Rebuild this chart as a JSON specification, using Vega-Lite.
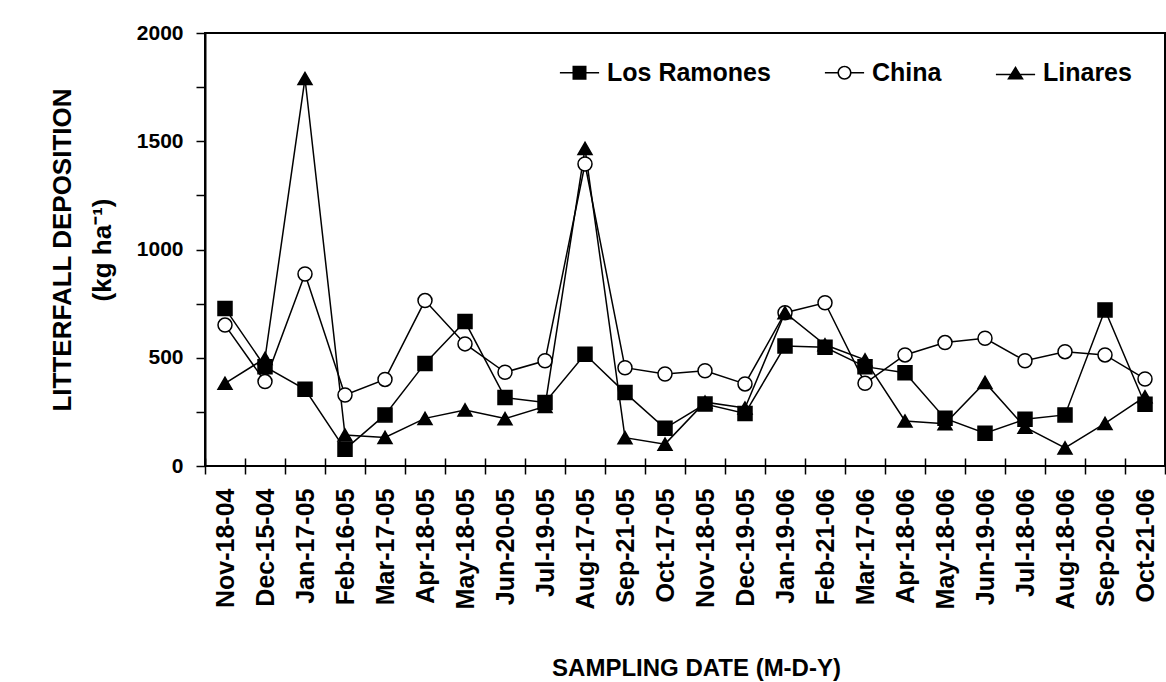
{
  "$schema": "https://vega.github.io/schema/vega-lite/v6.json",
  "width": 960,
  "height": 433,
  "autosize": {"type": "none"},
  "padding": {"left": 205, "top": 33, "right": 1, "bottom": 216},
  "background": "white",
  "config": {
    "font": "Liberation Sans",
    "view": {"stroke": "black", "strokeWidth": 2},
    "axis": {
      "labelFont": "Liberation Sans", "labelFontWeight": "bold", "labelColor": "black",
      "titleFont": "Liberation Sans", "titleFontWeight": "bold", "titleColor": "black",
      "tickColor": "black", "domainColor": "black", "grid": false, "ticks": true
    }
  },
  "datasets": {
    "litter": [
      {"date": "Nov-18-04", "site": "Los Ramones", "value": 728},
      {"date": "Dec-15-04", "site": "Los Ramones", "value": 459},
      {"date": "Jan-17-05", "site": "Los Ramones", "value": 354},
      {"date": "Feb-16-05", "site": "Los Ramones", "value": 77},
      {"date": "Mar-17-05", "site": "Los Ramones", "value": 236},
      {"date": "Apr-18-05", "site": "Los Ramones", "value": 474},
      {"date": "May-18-05", "site": "Los Ramones", "value": 667},
      {"date": "Jun-20-05", "site": "Los Ramones", "value": 316},
      {"date": "Jul-19-05", "site": "Los Ramones", "value": 293},
      {"date": "Aug-17-05", "site": "Los Ramones", "value": 516},
      {"date": "Sep-21-05", "site": "Los Ramones", "value": 339},
      {"date": "Oct-17-05", "site": "Los Ramones", "value": 174},
      {"date": "Nov-18-05", "site": "Los Ramones", "value": 286},
      {"date": "Dec-19-05", "site": "Los Ramones", "value": 243},
      {"date": "Jan-19-06", "site": "Los Ramones", "value": 554},
      {"date": "Feb-21-06", "site": "Los Ramones", "value": 548},
      {"date": "Mar-17-06", "site": "Los Ramones", "value": 459},
      {"date": "Apr-18-06", "site": "Los Ramones", "value": 431},
      {"date": "May-18-06", "site": "Los Ramones", "value": 220},
      {"date": "Jun-19-06", "site": "Los Ramones", "value": 151},
      {"date": "Jul-18-06", "site": "Los Ramones", "value": 216},
      {"date": "Aug-18-06", "site": "Los Ramones", "value": 236},
      {"date": "Sep-20-06", "site": "Los Ramones", "value": 721},
      {"date": "Oct-21-06", "site": "Los Ramones", "value": 285},
      {"date": "Nov-18-04", "site": "China", "value": 651},
      {"date": "Dec-15-04", "site": "China", "value": 390},
      {"date": "Jan-17-05", "site": "China", "value": 887},
      {"date": "Feb-16-05", "site": "China", "value": 328},
      {"date": "Mar-17-05", "site": "China", "value": 400},
      {"date": "Apr-18-05", "site": "China", "value": 764},
      {"date": "May-18-05", "site": "China", "value": 564},
      {"date": "Jun-20-05", "site": "China", "value": 433},
      {"date": "Jul-19-05", "site": "China", "value": 486},
      {"date": "Aug-17-05", "site": "China", "value": 1395},
      {"date": "Sep-21-05", "site": "China", "value": 454},
      {"date": "Oct-17-05", "site": "China", "value": 425},
      {"date": "Nov-18-05", "site": "China", "value": 440},
      {"date": "Dec-19-05", "site": "China", "value": 379},
      {"date": "Jan-19-06", "site": "China", "value": 708},
      {"date": "Feb-21-06", "site": "China", "value": 754},
      {"date": "Mar-17-06", "site": "China", "value": 382},
      {"date": "Apr-18-06", "site": "China", "value": 513},
      {"date": "May-18-06", "site": "China", "value": 570},
      {"date": "Jun-19-06", "site": "China", "value": 590},
      {"date": "Jul-18-06", "site": "China", "value": 486},
      {"date": "Aug-18-06", "site": "China", "value": 528},
      {"date": "Sep-20-06", "site": "China", "value": 513},
      {"date": "Oct-21-06", "site": "China", "value": 402},
      {"date": "Nov-18-04", "site": "Linares", "value": 382},
      {"date": "Dec-15-04", "site": "Linares", "value": 497},
      {"date": "Jan-17-05", "site": "Linares", "value": 1790},
      {"date": "Feb-16-05", "site": "Linares", "value": 143},
      {"date": "Mar-17-05", "site": "Linares", "value": 132},
      {"date": "Apr-18-05", "site": "Linares", "value": 220},
      {"date": "May-18-05", "site": "Linares", "value": 259},
      {"date": "Jun-20-05", "site": "Linares", "value": 219},
      {"date": "Jul-19-05", "site": "Linares", "value": 275},
      {"date": "Aug-17-05", "site": "Linares", "value": 1467},
      {"date": "Sep-21-05", "site": "Linares", "value": 131},
      {"date": "Oct-17-05", "site": "Linares", "value": 101},
      {"date": "Nov-18-05", "site": "Linares", "value": 295},
      {"date": "Dec-19-05", "site": "Linares", "value": 268},
      {"date": "Jan-19-06", "site": "Linares", "value": 708},
      {"date": "Feb-21-06", "site": "Linares", "value": 560},
      {"date": "Mar-17-06", "site": "Linares", "value": 490},
      {"date": "Apr-18-06", "site": "Linares", "value": 208},
      {"date": "May-18-06", "site": "Linares", "value": 195},
      {"date": "Jun-19-06", "site": "Linares", "value": 386},
      {"date": "Jul-18-06", "site": "Linares", "value": 179},
      {"date": "Aug-18-06", "site": "Linares", "value": 84},
      {"date": "Sep-20-06", "site": "Linares", "value": 197},
      {"date": "Oct-21-06", "site": "Linares", "value": 320}
    ]
  },
  "data": {"name": "litter"},
  "encoding": {
    "x": {
      "field": "date", "type": "ordinal",
      "sort": ["Nov-18-04","Dec-15-04","Jan-17-05","Feb-16-05","Mar-17-05","Apr-18-05","May-18-05","Jun-20-05","Jul-19-05","Aug-17-05","Sep-21-05","Oct-17-05","Nov-18-05","Dec-19-05","Jan-19-06","Feb-21-06","Mar-17-06","Apr-18-06","May-18-06","Jun-19-06","Jul-18-06","Aug-18-06","Sep-20-06","Oct-21-06"],
      "scale": {"type": "band", "paddingInner": 0, "paddingOuter": 0},
      "axis": {
        "title": "SAMPLING DATE (M-D-Y)",
        "labelAngle": -90, "labelFontSize": 25, "labelPadding": 14,
        "ticks": true, "tickBand": "extent", "tickSize": 16, "tickWidth": 1.5, "tickColor": "black",
        "offset": -8, "domain": false,
        "titleFontSize": 24, "titleX": 491, "titleY": 210, "titleBaseline": "middle"
      }
    },
    "y": {
      "field": "value", "type": "quantitative",
      "scale": {"domain": [0, 2000], "nice": false},
      "axis": {
        "title": ["LITTERFALL DEPOSITION", "(kg ha⁻¹)"],
        "values": [0, 250, 500, 750, 1000, 1250, 1500, 1750, 2000],
        "format": "d",
        "labelExpr": "datum.value % 500 === 0 ? datum.label : ''",
        "labelFontSize": 21, "labelPadding": 13,
        "ticks": true, "tickSize": 9, "tickWidth": 1.5, "tickColor": "black", "domainWidth": 2,
        "titleFontSize": 26, "titleLineHeight": 40,
        "titleX": -143, "titleY": 216.5, "titleBaseline": "middle", "titleAlign": "center"
      }
    }
  },
  "layer": [
    {
      "mark": {"type": "line", "color": "black", "strokeWidth": 1.5},
      "encoding": {"detail": {"field": "site"}}
    },
    {
      "mark": {"type": "point", "filled": true, "stroke": "black", "strokeWidth": 1.5, "opacity": 1, "size": 196},
      "encoding": {
        "shape": {
          "field": "site", "type": "nominal",
          "scale": {"domain": ["Los Ramones", "China", "Linares"], "range": ["square", "circle", "triangle-up"]},
          "legend": null
        },
        "fill": {
          "field": "site", "type": "nominal",
          "scale": {"domain": ["Los Ramones", "China", "Linares"], "range": ["black", "white", "black"]},
          "legend": null
        }
      }
    },
    {
      "transform": [{"filter": "false"}],
      "mark": {"type": "point", "filled": true, "color": "black", "strokeWidth": 0, "opacity": 1, "size": 196},
      "encoding": {
        "shape": {
          "field": "site", "type": "nominal",
          "scale": {
            "domain": ["Los Ramones", "China", "Linares"],
            "range": [
              "M-2.8,-0.1H2.8V0.1H-2.8Z M-1,-1H1V1H-1Z",
              "M-2.8,-0.1H-0.9V0.1H-2.8Z M0.9,-0.1H2.8V0.1H0.9Z M-1,0A1,1,0,1,1,1,0A1,1,0,1,1,-1,0Z M-0.78,0A0.78,0.78,0,1,0,0.78,0A0.78,0.78,0,1,0,-0.78,0Z",
              "M-2.8,0.15H2.8V0.35H-2.8Z M0,-0.95L1.2,0.95H-1.2Z"
            ]
          },
          "legend": {
            "title": null, "orient": "none", "legendX": 362, "legendY": 27, "direction": "horizontal",
            "labelFontSize": 25, "labelFont": "Liberation Sans", "labelFontWeight": "bold", "labelColor": "black",
            "labelLimit": 400,
            "symbolSize": 196, "symbolFillColor": "black", "symbolStrokeWidth": 0,
            "labelOffset": 15, "columnPadding": 53
          }
        }
      }
    }
  ],
  "resolve": {"scale": {"shape": "independent"}}
}
